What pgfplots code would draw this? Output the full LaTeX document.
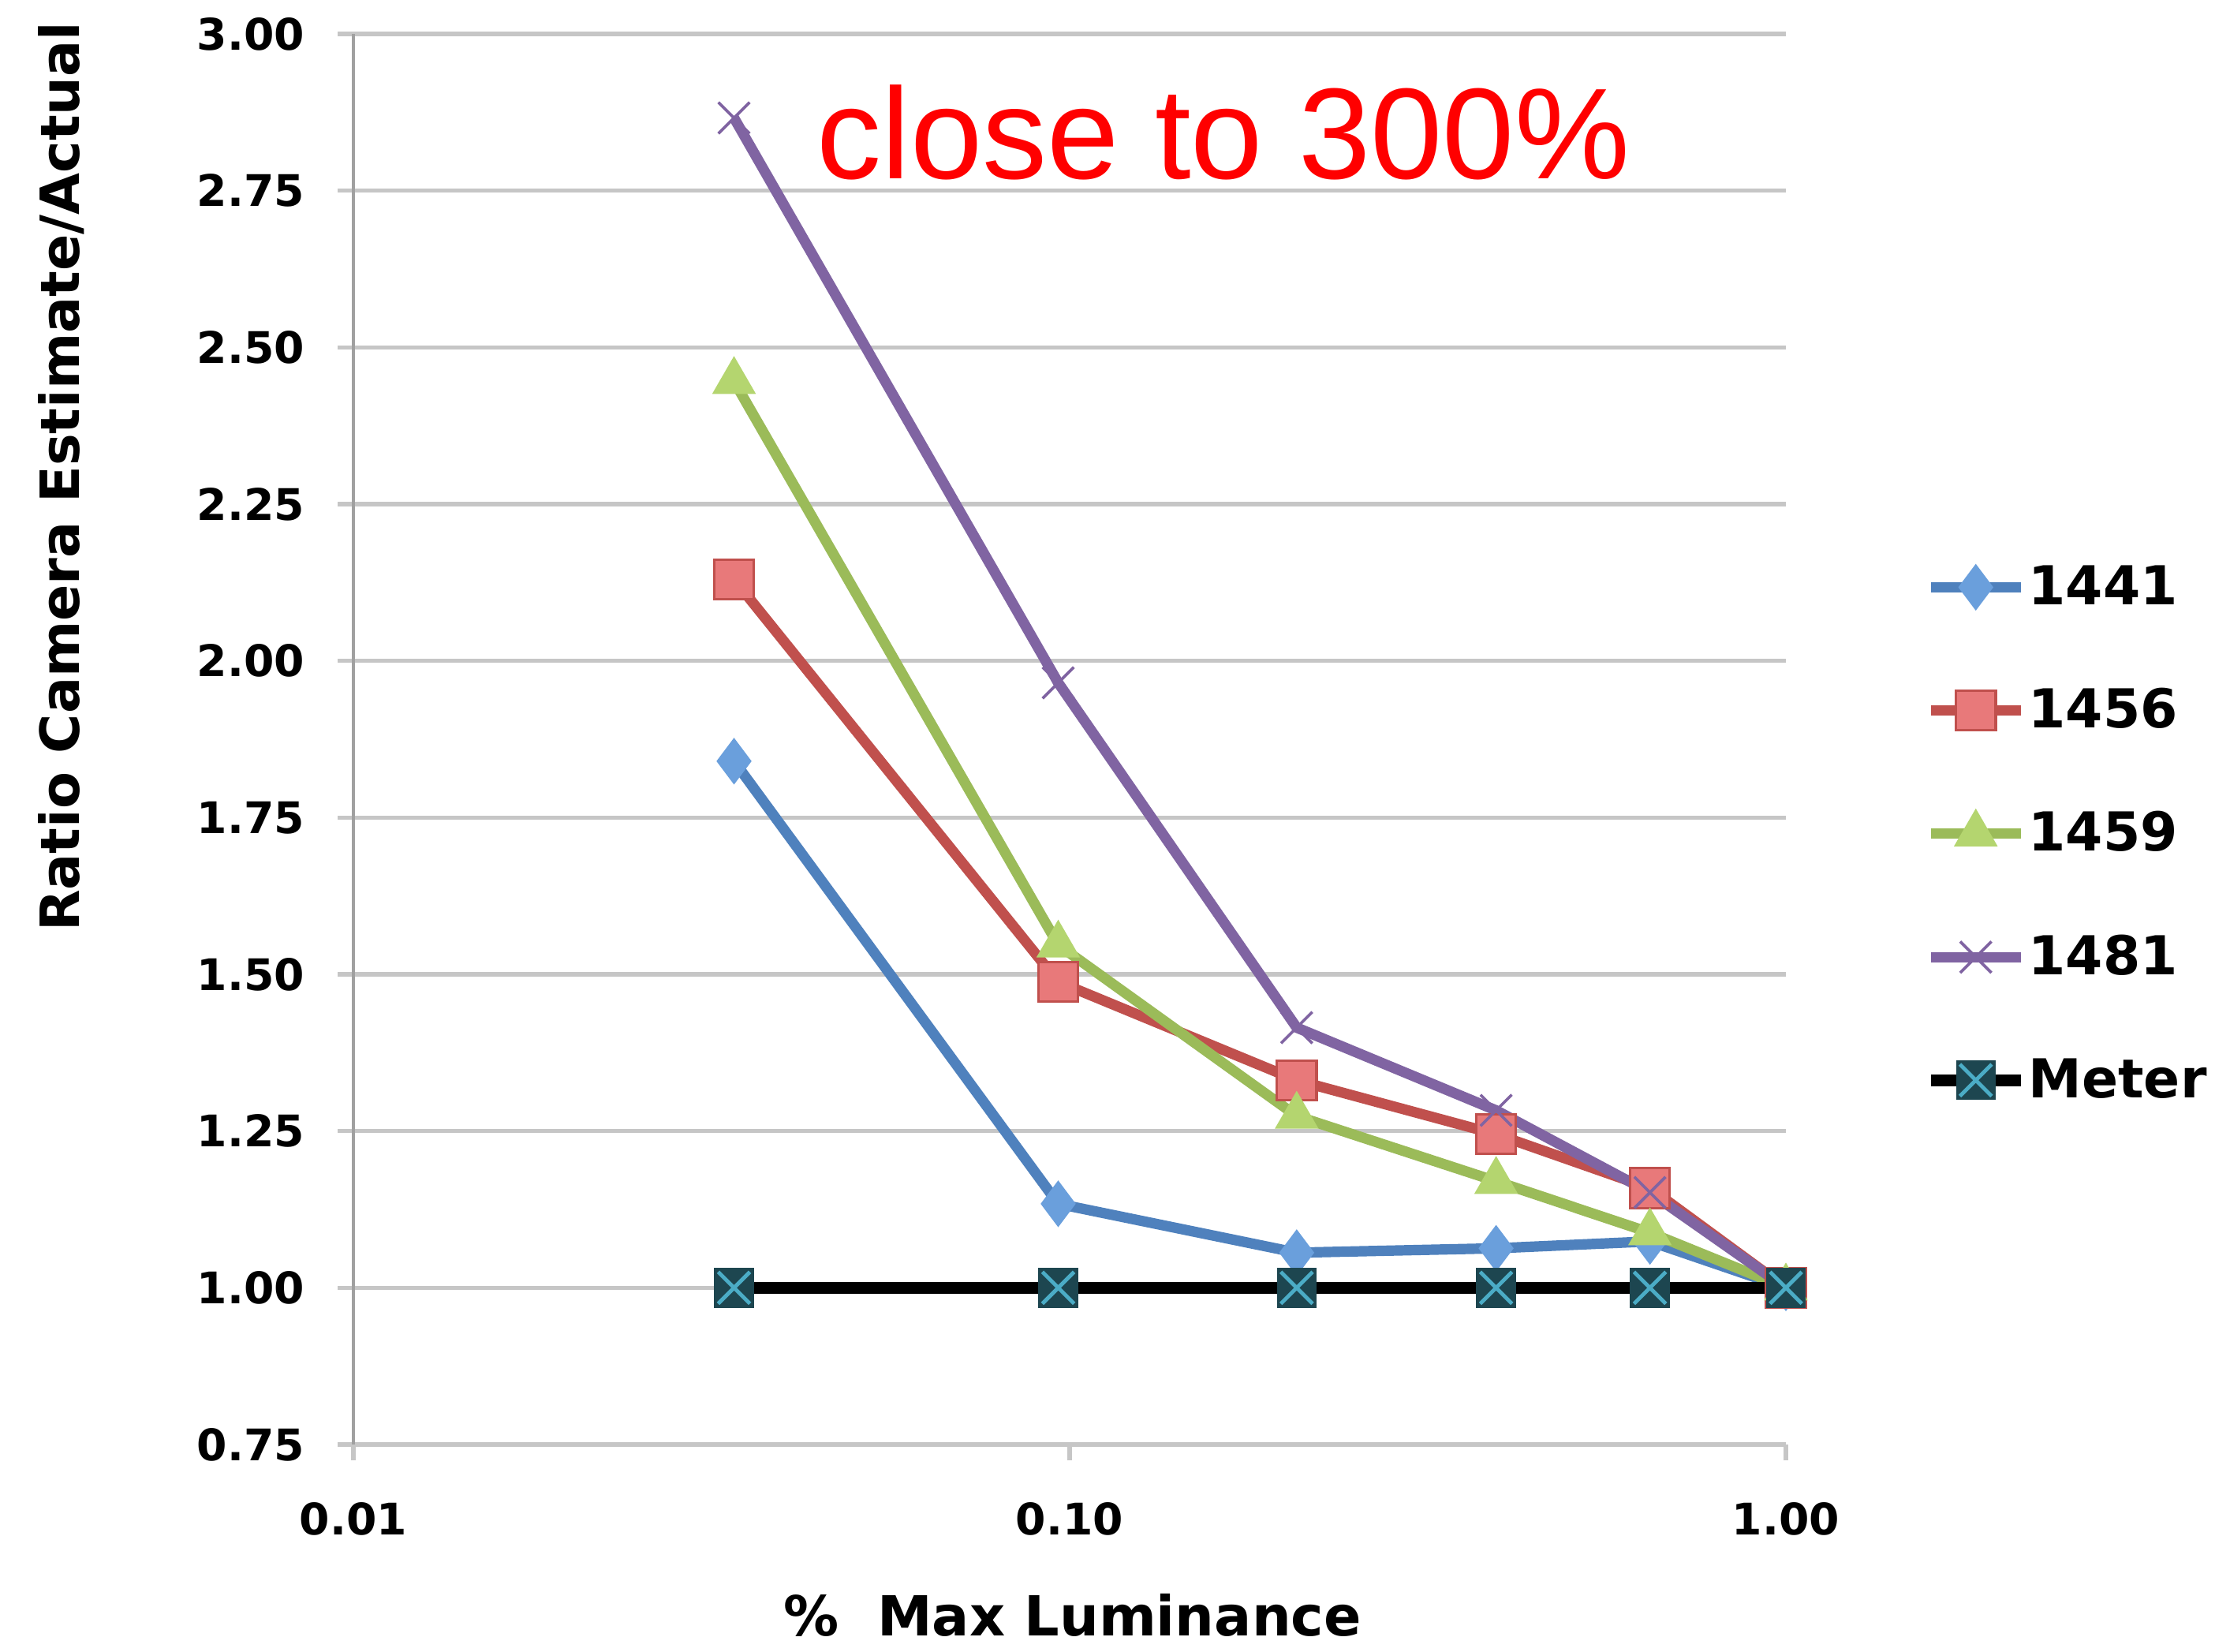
\documentclass[border=0pt]{standalone}
\usepackage{fontspec}
\setmainfont{DejaVu Sans}
\newfontfamily\arialfont{Liberation Sans}
\usepackage{pgfplots}
\pgfplotsset{compat=1.18}
\definecolor{cblue}{HTML}{4F81BD}
\definecolor{cbluef}{HTML}{6A9FDC}
\definecolor{cred}{HTML}{C0504D}
\definecolor{credf}{HTML}{E8797A}
\definecolor{cgreen}{HTML}{9BBB59}
\definecolor{cgreenf}{HTML}{B4D56F}
\definecolor{cpurple}{HTML}{8064A2}
\definecolor{meterfill}{HTML}{1D4650}
\definecolor{metercyan}{HTML}{4BACC6}
\definecolor{gridc}{HTML}{C6C6C6}
\definecolor{axc}{HTML}{A0A0A0}
\pgfdeclareplotmark{meter}{%
  \pgfpathrectangle{\pgfpoint{-\pgfplotmarksize}{-\pgfplotmarksize}}{\pgfpoint{2\pgfplotmarksize}{2\pgfplotmarksize}}%
  \pgfsetfillcolor{meterfill}\pgfusepathqfill
  \pgfsetstrokecolor{metercyan}\pgfsetlinewidth{1.2pt}%
  \pgfpathmoveto{\pgfpoint{-0.8\pgfplotmarksize}{-0.8\pgfplotmarksize}}\pgfpathlineto{\pgfpoint{0.8\pgfplotmarksize}{0.8\pgfplotmarksize}}%
  \pgfpathmoveto{\pgfpoint{-0.8\pgfplotmarksize}{0.8\pgfplotmarksize}}\pgfpathlineto{\pgfpoint{0.8\pgfplotmarksize}{-0.8\pgfplotmarksize}}%
  \pgfusepathqstroke}
\begin{document}
\begin{tikzpicture}
\useasboundingbox (-112pt,-65.5pt) rectangle (594.75pt,457.75pt);
\begin{axis}[
  at={(0,0)}, anchor=south west,
  scale only axis, width=454pt, height=447pt,
  xmode=log, xmin=0.01, xmax=1, ymin=0.75, ymax=3,
  xtick={0.01,0.1,1}, xticklabels={0.01,0.10,1.00},
  ytick={0.75,1,1.25,1.5,1.75,2,2.25,2.5,2.75,3},
  minor x tick style={draw=none},
  /pgf/number format/assume math mode=true,
  yticklabel style={/pgf/number format/fixed, /pgf/number format/fixed zerofill, /pgf/number format/precision=2},
  tick label style={font=\fontsize{13.8}{13.8}\selectfont\bfseries},
  xticklabel style={anchor=center, yshift=-18.6pt},
  yticklabel style={anchor=east, xshift=-7pt},
  axis x line*=bottom, axis y line*=left,
  axis line style={-, draw=axc, line width=0.8pt},
  x axis line style={draw=gridc, line width=1.4pt},
  ymajorgrids, major grid style={draw=gridc, line width=1.4pt},
  tick align=outside, major tick length=5pt,
  tick style={draw=gridc, line width=1.4pt},
  xlabel={\%\ \ Max Luminance},
  ylabel={Ratio Camera Estimate/Actual},
  label style={font=\fontsize{17.5}{17.5}\selectfont\bfseries},
  xlabel style={at={(axis description cs:0.502,0)}, yshift=-54pt, anchor=center},
  ylabel style={at={(axis description cs:-0.204,0.686)}, anchor=center, font=\fontsize{17.1}{17.1}\selectfont\bfseries},
  clip=false,
  legend style={at={(1.09,0.433)}, anchor=west, draw=none, fill=none,
    font=\fontsize{17}{17}\selectfont\bfseries, row sep=23.8pt, nodes={inner sep=0.6pt}},
  legend cell align=left,
  legend image code/.code={\draw[mark repeat=2,mark phase=2,#1] plot coordinates {(0cm,0cm)(0.5cm,0cm)(1cm,0cm)};},
]
\addplot[cblue, line width=3.3pt, mark=diamond*, mark size=7pt, mark options={fill=cbluef, draw=cbluef, line width=0.5pt}]
  coordinates {(0.034,1.84)(0.0964,1.134)(0.2075,1.056)(0.394,1.063)(0.646,1.074)(1,1.0)};
\addlegendentry{1441}
\addplot[cred, line width=3.3pt, mark=square*, mark size=6.3pt, mark options={fill=credf, draw=cred, line width=0.8pt}]
  coordinates {(0.034,2.13)(0.0964,1.488)(0.2075,1.331)(0.394,1.245)(0.646,1.159)(1,1.0)};
\addlegendentry{1456}
\addplot[cgreen, line width=3.3pt, mark=triangle*, mark size=7.5pt, mark options={fill=cgreenf, draw=cgreenf, line width=0.5pt}]
  coordinates {(0.034,2.446)(0.0964,1.547)(0.2075,1.274)(0.394,1.17)(0.646,1.088)(1,1.0)};
\addlegendentry{1459}
\addplot[cpurple, line width=3.3pt, mark=x, mark size=7pt, mark options={draw=cpurple, line width=0.9pt}]
  coordinates {(0.034,2.866)(0.0964,1.965)(0.2075,1.415)(0.394,1.283)(0.646,1.152)(1,1.0)};
\addlegendentry{1481}
\addplot[black, line width=3.8pt, mark=meter, mark size=6.3pt]
  coordinates {(0.034,1.0)(0.0964,1.0)(0.2075,1.0)(0.394,1.0)(0.646,1.0)(1,1.0)};
\addlegendentry{Meter}
\node[text=red, font=\arialfont\fontsize{41}{41}\selectfont, anchor=center, inner sep=0pt] at (axis cs:0.164,2.843) {close to 300\%};
\end{axis}
\end{tikzpicture}
\end{document}
